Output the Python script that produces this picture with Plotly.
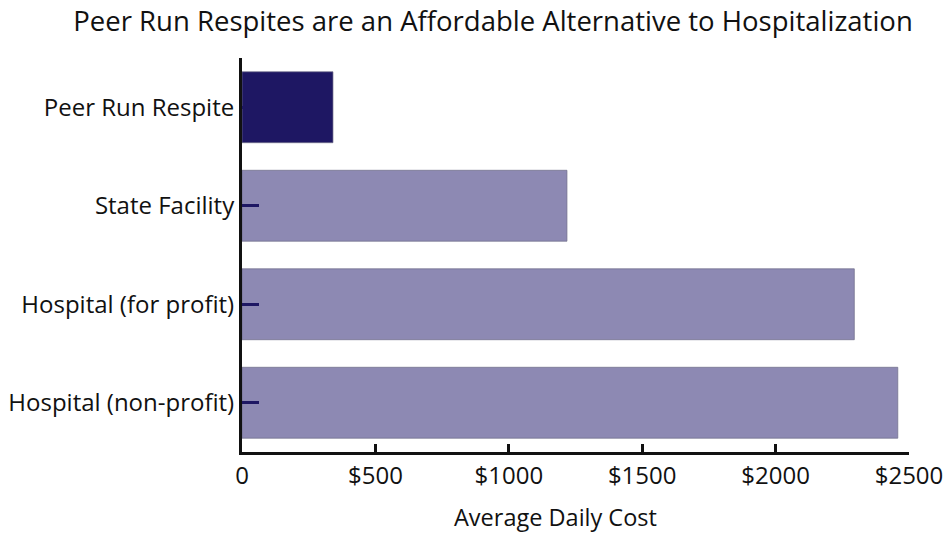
import plotly.graph_objects as go

categories = ["Peer Run Respite", "State Facility", "Hospital (for profit)", "Hospital (non-profit)"]
daily_cost = [341, 1218, 2295, 2458]
tick_values = [0, 500, 1000, 1500, 2000, 2500]
tick_labels = ["0", "$500", "$1000", "$1500", "$2000", "$2500"]

bar_colors = ["#1e1763", "#8d89b3", "#8d89b3", "#8d89b3"]
FONT = "Open Sans"

fig = go.Figure(
    go.Bar(
        x=daily_cost,
        y=categories,
        orientation="h",
        marker=dict(color=bar_colors, line=dict(color="rgba(110,108,135,0.7)", width=1)),
        width=0.72,
        hoverinfo="x+y",
    )
)

fig.update_layout(
    width=950,
    height=535,
    margin=dict(l=242, r=41, t=58, b=83),
    paper_bgcolor="white",
    plot_bgcolor="white",
    showlegend=False,
    font=dict(family=FONT, color="#111111"),
    title=dict(
        text="Peer Run Respites are an Affordable Alternative to Hospitalization",
        xref="container", x=0.519, xanchor="center",
        yref="container", y=1 - 21 / 535, yanchor="middle",
        font=dict(family=FONT, size=27.5, color="#111111"),
    ),
    xaxis=dict(
        range=[0, 2500],
        tickvals=tick_values,
        ticktext=tick_labels,
        ticks="inside",
        ticklen=8,
        tickwidth=2.5,
        tickcolor="#111111",
        showline=True,
        linecolor="#111111",
        linewidth=3,
        showgrid=False,
        zeroline=False,
        automargin=False,
        tickfont=dict(family=FONT, size=24, color="#111111"),
    ),
    yaxis=dict(
        range=[3.5, -0.5],
        categoryorder="array",
        categoryarray=categories,
        ticks="inside",
        ticklen=17,
        tickwidth=3,
        tickcolor="#1e1763",
        showline=True,
        linecolor="#111111",
        linewidth=3,
        showgrid=False,
        zeroline=False,
        automargin=False,
        tickfont=dict(family=FONT, size=24, color="#111111"),
    ),
    annotations=[
        dict(
            text="Average Daily Cost",
            xref="paper", x=(555 - 242) / 667, xanchor="center",
            yref="paper", y=(452 - 517) / 394, yanchor="middle",
            showarrow=False,
            font=dict(family=FONT, size=23.5, color="#111111"),
        )
    ],
)

fig.write_html("out.html")
